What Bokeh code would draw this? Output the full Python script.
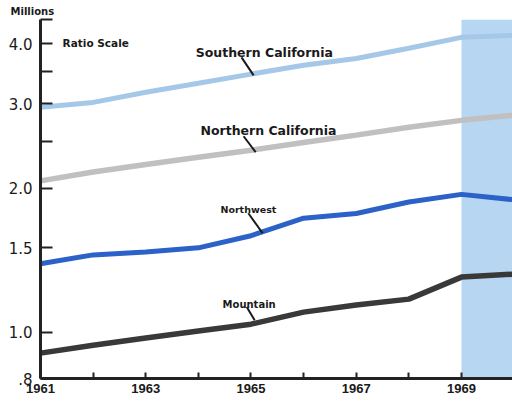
from bokeh.plotting import figure
from bokeh.models import FixedTicker, Range1d, BoxAnnotation
from bokeh.core.properties import value
from bokeh.embed import file_html
from bokeh.resources import INLINE

years = [1961, 1962, 1963, 1964, 1965, 1966, 1967, 1968, 1969, 1970]
southern_california = [2.95, 3.02, 3.17, 3.31, 3.46, 3.61, 3.73, 3.92, 4.13, 4.17]
northern_california = [2.07, 2.16, 2.24, 2.32, 2.40, 2.49, 2.58, 2.68, 2.77, 2.84]
northwest = [1.39, 1.45, 1.47, 1.50, 1.59, 1.73, 1.77, 1.87, 1.94, 1.89]
mountain = [0.904, 0.939, 0.972, 1.005, 1.039, 1.101, 1.139, 1.172, 1.303, 1.322]

shade_start = 1969
y_ticks = [0.8, 1.0, 1.5, 2.0, 2.5, 3.0, 3.5, 4.0, 4.5]
y_tick_labels = [".8", "1.0", "1.5", "2.0", "", "3.0", "", "4.0", ""]
x_ticks = [1961, 1962, 1963, 1964, 1965, 1966, 1967, 1968, 1969]
x_tick_labels = ["1961", "", "1963", "", "1965", "", "1967", "", "1969"]

# series label text, anchor position (data) and leader line (data)
labels = [
    ("Southern California", 1963.95, 3.84, (1964.82, 3.75), (1965.05, 3.44), "12.5px"),
    ("Northern California", 1964.04, 2.64, (1964.86, 2.566), (1965.09, 2.376), "12.5px"),
    ("Northwest", 1964.42, 1.806, (1964.95, 1.772), (1965.22, 1.61), "9.5px"),
    ("Mountain", 1964.46, 1.144, (1964.92, 1.128), (1965.07, 1.059), "10px"),
]

p = figure(width=512, height=401, output_backend="svg", toolbar_location=None,
           y_axis_type="log", title="Millions",
           x_range=Range1d(1961, 1969.97), y_range=Range1d(0.8, 4.5),
           min_border_left=40, min_border_right=0, min_border_top=19, min_border_bottom=23)
p.outline_line_color = None
p.grid.visible = False
p.background_fill_color = "white"
p.border_fill_color = "white"

p.title.align = "left"
p.title.offset = -30
p.title.standoff = 5
p.title.text_font = "DejaVu Sans"
p.title.text_font_style = "bold"
p.title.text_font_size = "10px"
p.title.text_color = "#1a1a1a"

p.add_layout(BoxAnnotation(left=shade_start, fill_color="#b7d6f1", fill_alpha=1.0,
                           line_color=None, level="underlay"))

p.line(years, southern_california, line_color="#a5c8e9", line_width=5)
p.line(years, northern_california, line_color="#c0c0c0", line_width=5.5)
p.line(years, northwest, line_color="#2c62c8", line_width=5)
p.line(years, mountain, line_color="#393939", line_width=5.5)

font = value("DejaVu Sans")
for text, tx, ty, a, b, fs in labels:
    p.text(x=[tx], y=[ty], text=[text], text_font=font, text_font_style="bold",
           text_font_size=fs, text_color="#1a1a1a",
           text_baseline="alphabetic", text_align="left")
    p.segment(x0=[a[0]], y0=[a[1]], x1=[b[0]], y1=[b[1]], line_color="#1a1a1a", line_width=2)

p.text(x=[1961.42], y=[4.01], text=["Ratio Scale"], text_font=font, text_font_style="bold",
       text_font_size="10.5px", text_color="#1a1a1a", text_baseline="alphabetic")

ya = p.yaxis[0]
ya.ticker = FixedTicker(ticks=y_ticks)
ya.major_label_overrides = {t: l for t, l in zip(y_ticks, y_tick_labels)}
ya.axis_line_width = 3
ya.axis_line_color = "#222222"
ya.major_tick_in = 12
ya.major_tick_out = 0
ya.major_tick_line_width = 2
ya.major_tick_line_color = "#222222"
ya.minor_tick_line_color = None
ya.major_label_standoff = 8
ya.major_label_text_font = "DejaVu Sans"
ya.major_label_text_font_size = "15px"
ya.major_label_text_color = "#1a1a1a"

xa = p.xaxis[0]
xa.ticker = FixedTicker(ticks=x_ticks)
xa.major_label_overrides = {t: l for t, l in zip(x_ticks, x_tick_labels)}
xa.axis_line_width = 3
xa.axis_line_color = "#222222"
xa.major_tick_in = 6
xa.major_tick_out = 0
xa.major_tick_line_width = 2
xa.major_tick_line_color = "#222222"
xa.minor_tick_line_color = None
xa.major_label_standoff = 5
xa.major_label_text_font = "Liberation Sans"
xa.major_label_text_font_style = "bold"
xa.major_label_text_font_size = "13px"
xa.major_label_text_color = "#1a1a1a"

open("out.html", "w").write(file_html(p, INLINE))
